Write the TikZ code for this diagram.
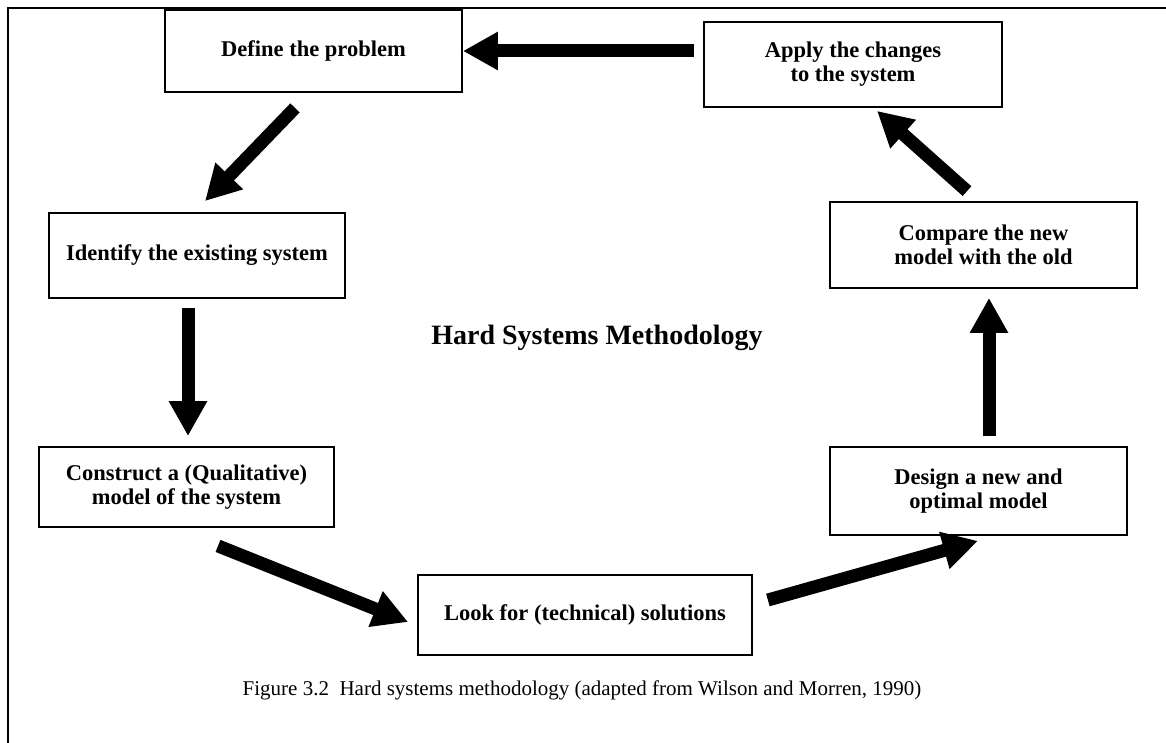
\documentclass[tikz,border=0pt]{standalone}
\usepackage{fontspec}
\setmainfont{Liberation Serif}
\usetikzlibrary{arrows.meta,calc}
\begin{document}
\begin{tikzpicture}[x=1pt,y=-1pt,
  stepbox/.style={draw, line width=1.8pt, rectangle, inner sep=0pt, align=center,
    font=\fontsize{22.5}{24}\selectfont\bfseries},
  bigarrow/.style={line width=13pt, -{Triangle[length=35pt,width=36pt]}},
  ]
\useasboundingbox (0,0) rectangle (1166,743);
% frame rules along the top and left
\draw[line width=2pt] (8,743) -- (8,8) -- (1166,8);

% the seven steps of the cycle
\node[stepbox, minimum width=297pt, minimum height=82pt] (define) at (313.5,51) {Define the problem};
\node[stepbox, minimum width=298pt, minimum height=85pt] (apply) at (853,64.5) {Apply the changes\\to the system};
\node[stepbox, minimum width=307pt, minimum height=86pt] (compare) at (983.5,245) {Compare the new\\model with the old};
\node[stepbox, minimum width=297pt, minimum height=88pt] (design) at (978.5,491) {Design a new and\\optimal model};
\node[stepbox, minimum width=296pt, minimum height=85pt] (identify) at (197,255.5) {Identify the existing system};
\node[stepbox, minimum width=295pt, minimum height=80pt] (construct) at (186.5,487) {Construct a (Qualitative)\\model of the system};
\node[stepbox, minimum width=334pt, minimum height=80pt] (look) at (585,615) {Look for (technical) solutions};

% centre title and caption
\node[font=\fontsize{28}{30}\selectfont\bfseries] (title) at (597,338) {Hard Systems Methodology};
\node[font=\fontsize{21}{24}\selectfont] (caption) at (582,690)
  {Figure 3.2\ \ Hard systems methodology (adapted from Wilson and Morren, 1990)};

% heavy arrows joining the steps
\draw[bigarrow] ($(apply.west)+(-9,-13.5)$) -- (define.east);
\draw[bigarrow] ($(define.south)+(-18.5,15)$) -- ($(identify.north)+(8,-11)$);
\draw[bigarrow] ($(identify.south)+(-9,9)$) -- ($(construct.north)+(1.5,-10)$);
\draw[bigarrow] ($(construct.south)+(31.5,18)$) -- ($(look.west)+(-9,7)$);
\draw[bigarrow] ($(look.east)+(15,-15)$) -- ($(design.south)+(-0.5,5)$);
\draw[bigarrow] ($(design.north)+(10.5,-10)$) -- ($(compare.south)+(5.5,9)$);
\draw[bigarrow] ($(compare.north)+(-16.5,-10)$) -- ($(apply.south)+(24,3)$);
\end{tikzpicture}
\end{document}
